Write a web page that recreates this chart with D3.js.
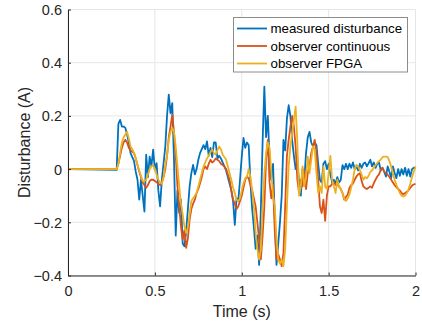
<!DOCTYPE html>
<html>
<head>
<meta charset="utf-8">
<script src="https://cdn.jsdelivr.net/npm/d3@7"></script>
<style>
  body { margin: 0; background: #fff; }
  svg { display: block; font-family: "Liberation Sans", Arial, sans-serif; }
</style>
</head>
<body>
<div id="chart"></div>
<script>
// sample times (s): flat start, then 10 ms steps from 0.28 s to 2.00 s
const time = [0, ...d3.range(28, 201).map(i => i / 100)];

const measured = [0,
  -0.003, 0.17,
  0.185, 0.16, 0.16, 0.155, 0.13, 0.1, 0.06, 0.045, 0.03, -0.01,
  -0.04, -0.115, -0.04, -0.1, -0.16, 0.054, -0.03, 0.047, 0.01, 0.073,
  -0.003, 0.022, -0.08, -0.14, -0.04, 0.022, 0.085, 0.2, 0.28, 0.21,
  0.248, 0.035, -0.25, -0.08, -0.165, -0.115, -0.28, -0.29, -0.235, -0.15,
  -0.065, -0.015, 0.016, -0.02, 0.0, 0.035, 0.06, 0.075, 0.09, 0.075,
  0.104, 0.05, 0.08, 0.045, 0.1, 0.1, 0.04, 0.05, 0.04, 0.025,
  0.01, -0.005, -0.03, -0.055, -0.08, -0.12, -0.21, -0.11, -0.12, -0.04,
  0.047, 0.117, 0.08, 0.1, 0.09, -0.05, -0.15, -0.22, -0.3, -0.25,
  -0.36, -0.15, 0.1, 0.31, 0.12, 0.2, 0.04, -0.04, 0.02, -0.18,
  -0.36, -0.28, -0.2, -0.1, 0.11, 0.07, 0.19, 0.24, 0.2, 0.11,
  0.05, 0.0, 0.035, -0.05, -0.1, 0.0, -0.04, 0.06, 0.12, 0.14,
  0.1, 0.085, 0.1, 0.09, 0.02, -0.04, -0.05, 0.02, 0.03, 0.0,
  0.02, -0.02, -0.05, -0.04, -0.055, -0.03, -0.05, -0.04, 0.015, 0.0,
  0.02, 0.0, 0.02, 0.005, 0.025, 0.0, 0.01, -0.005, 0.02, 0.005,
  0.02, 0.025, 0.01, 0.022, 0.035, 0.01, 0.025, 0.005, 0.02, 0.025,
  -0.005, 0.005, -0.01, -0.028, 0.01, -0.01, -0.034, 0.01, -0.015, -0.034,
  0.0, -0.025, 0.0, -0.02, 0.005, -0.025, 0.0, -0.028, 0.0, 0.005,
  0.005];

const observerCont = [0,
  0.0, 0.02,
  0.05, 0.08, 0.1, 0.11, 0.1, 0.08, 0.07, 0.065, 0.06, 0.04,
  0.015, -0.01, -0.03, -0.05, -0.06, -0.07, -0.06, -0.045, -0.04, -0.04,
  -0.045, -0.05, -0.055, -0.06, -0.05, -0.03, 0.0, 0.05, 0.12, 0.16,
  0.205, 0.14, 0.05, -0.065, -0.14, -0.215, -0.265, -0.23, -0.296, -0.26,
  -0.19, -0.15, -0.13, -0.115, -0.09, -0.075, -0.053, -0.03, 0.0, 0.01,
  0.0, 0.02, 0.035, 0.025, 0.03, 0.04, 0.035, 0.03, 0.02, 0.015,
  0.01, 0.0, -0.02, -0.04, -0.08, -0.115, -0.13, -0.15, -0.14, -0.12,
  -0.1, -0.07, -0.04, -0.028, -0.035, -0.06, -0.08, -0.11, -0.14, -0.2,
  -0.265, -0.34, -0.25, -0.14, 0.035, 0.11, -0.05, -0.11, -0.06, -0.23,
  -0.34, -0.32, -0.34, -0.365, -0.315, -0.14, 0.05, 0.11, 0.16, 0.2,
  0.16, 0.085, -0.04, -0.09, -0.04, -0.065, -0.005, -0.075, -0.015, 0.01,
  0.06, 0.085, 0.11, 0.06, -0.04, -0.14, -0.165, -0.115, -0.195, -0.1,
  -0.065, -0.065, -0.055, -0.05, -0.06, -0.06, -0.065, -0.075, -0.09, -0.115,
  -0.105, -0.095, -0.07, -0.06, -0.055, -0.04, -0.028, -0.02, -0.015, -0.045,
  -0.065, -0.071, -0.075, -0.07, -0.065, -0.07, -0.053, -0.04, -0.028, -0.02,
  -0.003, 0.005, -0.01, -0.015, -0.021, -0.03, -0.04, -0.05, -0.06, -0.068,
  -0.075, -0.08, -0.09, -0.095, -0.09, -0.085, -0.08, -0.07, -0.062, -0.058,
  -0.055];

const observerFpga = [0,
  0.0, 0.02,
  0.06, 0.1, 0.12, 0.13, 0.14, 0.115, 0.085, 0.075, 0.06, 0.04,
  0.015, -0.005, -0.025, -0.045, -0.045, -0.04, -0.02, 0.0, 0.01, 0.015,
  0.0, -0.02, -0.04, -0.05, -0.055, -0.03, 0.02, 0.05, 0.11, 0.14,
  0.155, 0.14, 0.085, 0.01, -0.065, -0.13, -0.17, -0.215, -0.24, -0.22,
  -0.17, -0.12, -0.11, -0.1, -0.09, -0.065, -0.04, -0.015, 0.01, 0.025,
  0.04, 0.05, 0.065, 0.073, 0.06, 0.055, 0.07, 0.085, 0.075, 0.055,
  0.045, 0.035, 0.01, -0.015, -0.04, -0.07, -0.09, -0.115, -0.12, -0.11,
  -0.08, -0.053, -0.035, -0.028, 0.0, -0.03, -0.08, -0.14, -0.24, -0.3,
  -0.34, -0.3, -0.14, -0.02, 0.06, 0.1, 0.08, -0.01, -0.1, -0.14,
  -0.265, -0.34, -0.355, -0.34, -0.365, -0.3, -0.14, 0.01, 0.085, 0.135,
  0.185, 0.235, 0.1, -0.1, -0.065, 0.01, -0.065, -0.03, 0.047, -0.015,
  0.035, 0.085, 0.075, -0.015, -0.09, -0.065, -0.09, 0.01, -0.065, -0.075,
  -0.015, 0.05, -0.04, -0.065, -0.09, -0.04, -0.065, -0.075, -0.09, -0.11,
  -0.12, -0.11, -0.095, -0.07, -0.04, 0.0, 0.016, 0.01, -0.005, -0.02,
  -0.04, -0.03, -0.035, -0.025, -0.01, -0.005, 0.005, 0.015, 0.023, 0.03,
  0.035, 0.045, 0.047, 0.047, 0.045, 0.03, 0.01, -0.015, -0.04, -0.059,
  -0.075, -0.09, -0.1, -0.103, -0.1, -0.09, -0.075, -0.055, -0.03, -0.01,
  0.01];

const seriesNames = ['measured disturbance', 'observer continuous', 'observer FPGA'];
const seriesColors = ['#0072BD', '#D95319', '#EDB120'];
const xTicks = [0, 0.5, 1, 1.5, 2];
const yTicks = [-0.4, -0.2, 0, 0.2, 0.4, 0.6];

const width = 422;
const height = 331;
const margin = { top: 9.5, right: 6.5, bottom: 55.5, left: 68 };

const svg = d3.select('#chart')
    .append('svg')
    .attr('width', width)
    .attr('height', height);

const x = d3.scaleLinear()
    .domain([0, 2])
    .range([margin.left, width - margin.right]);

const y = d3.scaleLinear()
    .domain([-0.4, 0.6])
    .range([height - margin.bottom, margin.top]);

// grid
svg.append('g')
    .selectAll('line.vx')
    .data(xTicks)
    .join('line')
    .attr('x1', d => x(d)).attr('x2', d => x(d))
    .attr('y1', y(-0.4)).attr('y2', y(0.6))
    .attr('stroke', '#e6e6e6').attr('stroke-width', 1);

svg.append('g')
    .selectAll('line.hy')
    .data(yTicks)
    .join('line')
    .attr('x1', x(0)).attr('x2', x(2))
    .attr('y1', d => y(d)).attr('y2', d => y(d))
    .attr('stroke', '#e6e6e6').attr('stroke-width', 1);

// lines
const allSeries = [measured, observerCont, observerFpga];
const line = d3.line()
    .x((d, i) => x(time[i]))
    .y(d => y(d));

svg.append('g')
    .selectAll('path')
    .data(allSeries)
    .join('path')
    .attr('d', line)
    .attr('fill', 'none')
    .attr('stroke', (d, i) => seriesColors[i])
    .attr('stroke-width', 1.8)
    .attr('stroke-linejoin', 'round');

// axes
const xAxis = svg.append('g')
    .attr('transform', `translate(0, ${y(-0.4)})`)
    .call(d3.axisBottom(x).tickValues(xTicks).tickSizeInner(-3).tickSizeOuter(0).tickPadding(10).tickFormat(d3.format('')));

const yAxis = svg.append('g')
    .attr('transform', `translate(${x(0)}, 0)`)
    .call(d3.axisLeft(y).tickValues(yTicks).tickSizeInner(-3).tickSizeOuter(0).tickPadding(6).tickFormat(d3.format('')));

[xAxis, yAxis].forEach(a => {
    a.select('.domain').attr('stroke', '#262626').attr('stroke-width', 1);
    a.selectAll('.tick line').attr('stroke', '#262626');
    a.selectAll('.tick text')
        .attr('fill', '#262626')
        .style('font-size', '14.5px')
        .style('font-family', '"Liberation Sans", Arial, sans-serif');
});
yAxis.selectAll('.tick text').attr('dy', '0.35em');

svg.append('text')
    .attr('x', (x(0) + x(2)) / 2)
    .attr('y', 317)
    .attr('text-anchor', 'middle')
    .attr('fill', '#262626')
    .style('font-size', '16px')
    .text('Time (s)');

svg.append('text')
    .attr('transform', `translate(30, ${(y(-0.4) + y(0.6)) / 2}) rotate(-90)`)
    .attr('text-anchor', 'middle')
    .attr('fill', '#262626')
    .style('font-size', '16px')
    .text('Disturbance (A)');

// legend
const legend = svg.append('g');
legend.append('rect')
    .attr('x', 233.5).attr('y', 17.5)
    .attr('width', 174).attr('height', 54.5)
    .attr('fill', '#fff')
    .attr('stroke', '#8c8c8c')
    .attr('stroke-width', 1);

seriesNames.forEach((name, i) => {
    const ly = 28.5 + i * 17.5;
    legend.append('line')
        .attr('x1', 237).attr('x2', 267)
        .attr('y1', ly).attr('y2', ly)
        .attr('stroke', seriesColors[i])
        .attr('stroke-width', 1.8);
    legend.append('text')
        .attr('x', 270.5).attr('y', ly)
        .attr('dy', '0.35em')
        .attr('fill', '#000')
        .style('font-size', '13.3px')
        .text(name);
});
</script>
</body>
</html>
